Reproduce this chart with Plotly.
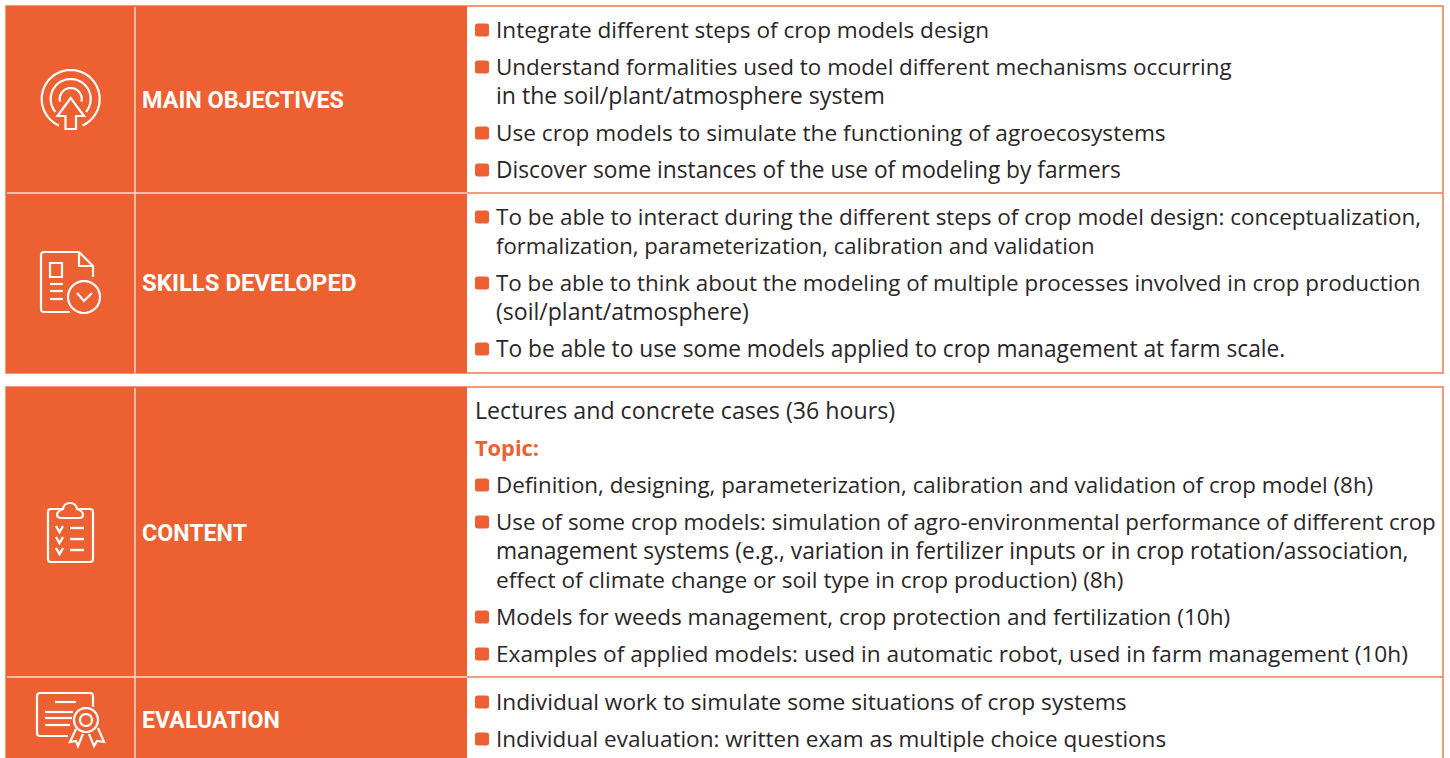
import math
import plotly.graph_objects as go

W, H = 1450, 758
ORANGE = "#EC6031"
BORDER = "#F17A50"
DIVIDER = "#FBD9C8"
INK = "#2A2627"

# ---- content -------------------------------------------------------------
SECTION_TITLES = ["MAIN OBJECTIVES", "SKILLS DEVELOPED", "CONTENT", "EVALUATION"]
BODY_LINES = [
    "Integrate different steps of crop models design",
    "Understand formalities used to model different mechanisms occurring",
    "in the soil/plant/atmosphere system",
    "Use crop models to simulate the functioning of agroecosystems",
    "Discover some instances of the use of modeling by farmers",
    "To be able to interact during the different steps of crop model design: conceptualization,",
    "formalization, parameterization, calibration and validation",
    "To be able to think about the modeling of multiple processes involved in crop production",
    "(soil/plant/atmosphere)",
    "To be able to use some models applied to crop management at farm scale.",
    "Lectures and concrete cases (36 hours)",
    "Topic:",
    "Definition, designing, parameterization, calibration and validation of crop model (8h)",
    "Use of some crop models: simulation of agro-environmental performance of different crop",
    "management systems (e.g., variation in fertilizer inputs or in crop rotation/association,",
    "effect of climate change or soil type in crop production) (8h)",
    "Models for weeds management, crop protection and fertilization (10h)",
    "Examples of applied models: used in automatic robot, used in farm management (10h)",
    "Individual work to simulate some situations of crop systems",
    "Individual evaluation: written exam as multiple choice questions",
]
LINE_Y = [30, 67, 96, 133, 170, 217, 246, 283, 312, 349, 411, 448, 485, 522, 551, 580, 617, 654, 702, 739]
# font size of each line, fitted to the reference line width
LINE_SIZE = [22.59, 22.41, 23.09, 22.64, 22.72, 22.5, 22.13, 22.38, 23.05, 22.73,
             23.2, 21.8, 22.37, 22.31, 22.77, 22.64, 22.5, 22.67, 22.68, 22.5]
BULLETED = [0, 1, 3, 4, 5, 7, 9, 12, 13, 16, 17, 18, 19]
TITLE_Y = [100, 283, 533, 720]
TITLE_SIZE = [23.4, 23.9, 23.2, 23.2]

# ---- helpers -------------------------------------------------------------
shapes = []

def rect(x0, y0, x1, y1, fill, line=None, w=1):
    shapes.append(dict(type="rect", xref="x", yref="y", x0=x0, y0=y0, x1=x1, y1=y1,
                       fillcolor=fill, line=dict(color=line or fill, width=w if line else 0)))

def seg(x0, y0, x1, y1, color, w=1.5):
    shapes.append(dict(type="line", xref="x", yref="y", x0=x0, y0=y0, x1=x1, y1=y1,
                       line=dict(color=color, width=w)))

def path(d, color="white", w=2.2, fill=None):
    s = dict(type="path", xref="x", yref="y", path=d, line=dict(color=color, width=w))
    if fill:
        s["fillcolor"] = fill
    shapes.append(s)

def arc(cx, cy, r, a0, a1, n=48):
    """Polyline arc; angles in degrees clockwise on screen from +x."""
    pts = []
    for i in range(n + 1):
        a = math.radians(a0 + (a1 - a0) * i / n)
        pts.append((cx + r * math.cos(a), cy + r * math.sin(a)))
    return "M" + " L".join(f"{x:.2f},{y:.2f}" for x, y in pts)

def rrect(x0, y0, x1, y1, r):
    return (f"M{x0+r},{y0} L{x1-r},{y0} Q{x1},{y0} {x1},{y0+r} L{x1},{y1-r} Q{x1},{y1} {x1-r},{y1} "
            f"L{x0+r},{y1} Q{x0},{y1} {x0},{y1-r} L{x0},{y0+r} Q{x0},{y0} {x0+r},{y0} Z")

# ---- table blocks --------------------------------------------------------
for top, bottom, split in [(6, 373, 193), (387, 758, 677)]:
    rect(6, top, 1443, bottom + 3 if bottom == 758 else bottom, "white", BORDER, 1.5)
    rect(6, top, 467, bottom + 3 if bottom == 758 else bottom, ORANGE)
    seg(6.5, split, 1443, split, BORDER, 1.5)
    seg(7, split, 467, split, DIVIDER, 1.5)
    seg(135, top + 1, 135, bottom, DIVIDER, 1.5)

# ---- bullets -------------------------------------------------------------
for i in BULLETED:
    y = LINE_Y[i]
    path(rrect(475, y - 6.5, 489, y + 6.5, 2.5), color=ORANGE, w=0, fill=ORANGE)

# ---- icons ---------------------------------------------------------------
# target / arrow
path(arc(70.7, 99, 29, 114, 426))
path(arc(70.7, 99, 20, 140, 400))
path(arc(70.7, 99, 11, 165, 375))
path("M70.7,98 L57.5,116 L65.5,116 L65.5,129 L76,129 L76,116 L84,116 Z")
# document
path("M79,252 L44,252 Q41,252 41,255 L41,309 Q41,312 44,312 L70,312")
path("M79,252 L79,266 L93,266 L93,277")
path("M79,252 L93,266")
path("M50,263 H62 V277 H50 Z")
for y in (284, 291, 299):
    path(f"M50,{y} L63,{y}")
path(arc(84, 297, 16, 0, 360))
path("M77,293 L84,301 L92,293")
# clipboard
path(rrect(48, 509, 93, 562, 3))
path("M63,509 Q64,503 70,503 Q76,503 77,509 Q83,511 83,515 Q83,518 79,518 L62,518 Q57,518 57,515 Q57,511 63,509 Z",
     fill=ORANGE)
for y in (526, 537, 548):
    path(f"M56,{y} L59.5,{y+6} L63,{y}", w=2.4)
    path(f"M70,{y+2} L84,{y+2}", w=2.4)
# certificate
path("M93,707 L93,696 Q93,693 90,693 L40,693 Q37,693 37,696 L37,733 Q37,736 40,736 L68,736")
path("M55,702 L76,702")
path("M45,712 L73,712")
path("M45,718 L72,718")
path("M45,725 L70,725")
path(arc(86, 720, 12, 0, 360))
path(arc(86, 720, 6, 0, 360))
path("M76,729 L70,742 L76,741 L78,746 L83,734")
path("M89,734 L94,746 L97,741 L104,742 L98,728")

# ---- text ----------------------------------------------------------------
ann = []
for title, y, size in zip(SECTION_TITLES, TITLE_Y, TITLE_SIZE):
    ann.append(dict(x=140, y=y, text=f"<b>{title}</b>", xref="x", yref="y", xanchor="left", yanchor="middle",
                    showarrow=False, font=dict(family="Roboto", size=size, color="white")))
for i, (txt, y, size) in enumerate(zip(BODY_LINES, LINE_Y, LINE_SIZE)):
    topic = txt == "Topic:"
    plain = i in (10, 11)
    x = 473 if plain else 494
    ann.append(dict(x=x, y=y - 1, text=f"<b>{txt}</b>" if topic else txt, xref="x", yref="y",
                    xanchor="left", yanchor="middle", showarrow=False,
                    font=dict(family="Open Sans", size=size, color=ORANGE if topic else INK)))

fig = go.Figure()
fig.update_layout(
    width=W, height=H, margin=dict(l=0, r=0, t=0, b=0),
    paper_bgcolor="white", plot_bgcolor="white", showlegend=False,
    xaxis=dict(range=[0, W], visible=False, fixedrange=True),
    yaxis=dict(range=[H, 0], visible=False, fixedrange=True),
    shapes=shapes, annotations=ann,
)
fig.write_html("out.html", config={"displayModeBar": False},
               post_script="document.body.style.margin='0';")
